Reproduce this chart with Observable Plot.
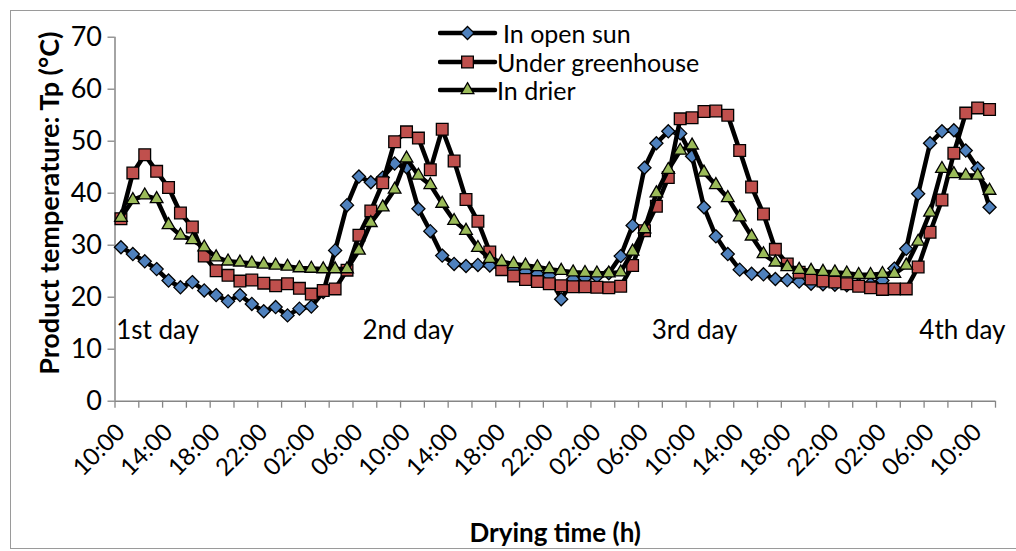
<!DOCTYPE html>
<html><head><meta charset="utf-8">
<script src="https://cdn.jsdelivr.net/npm/d3@7"></script>
<script src="https://cdn.jsdelivr.net/npm/@observablehq/plot@0.6"></script>
<style>
body{margin:0;background:#fff;}
#wrap{position:relative;width:1016px;height:551px;overflow:hidden;font-family:Lato,"Open Sans",sans-serif;}
#border{position:absolute;left:10px;top:10px;width:1040px;height:539px;border:1.5px solid #9a9a9a;box-sizing:border-box;}
#chart{position:absolute;left:0;top:0;}
#legend{position:absolute;left:0;top:0;width:1016px;height:110px;pointer-events:none;}
.lg{position:absolute;display:flex;align-items:center;font-size:25px;color:#000;white-space:pre;}
</style></head>
<body>
<div id="wrap"><div id="border"></div><div id="chart"></div><div id="legend"></div></div>
<script>
// ---- data (hourly readings, index 0 = 10:00 of day 1) ----
const seriesNames = ["In open sun", "Under greenhouse", "In drier"];
const openSun = [29.6,28.3,26.9,25.4,23.2,21.9,22.9,21.3,20.4,19.2,20.4,18.7,17.3,18.1,16.5,17.8,18.2,21.0,29.0,37.7,
  43.2,42.1,43.0,45.7,45.0,37.0,32.7,28.0,26.4,26.0,26.2,26.1,25.7,25.3,24.9,24.5,24.2,19.6,23.5,23.7,
  24.0,24.6,27.9,33.8,44.9,49.6,51.9,51.5,47.1,37.3,31.7,28.3,25.3,24.5,24.4,23.5,23.3,23.0,22.6,22.5,
  22.4,22.3,22.4,22.6,23.2,25.5,29.3,39.9,49.6,51.9,52.1,48.2,44.8,37.3];
const greenhouse = [35.1,43.9,47.4,44.2,41.1,36.2,33.5,27.9,25.1,24.2,23.1,23.3,22.7,22.2,22.6,21.7,20.6,21.3,21.6,25.2,
  31.9,36.6,42.0,49.9,51.8,50.6,44.5,52.3,46.2,38.8,34.6,28.7,25.3,24.1,23.4,23.0,22.6,22.2,22.0,22.0,
  21.9,21.8,22.1,26.1,32.8,37.5,43.0,54.3,54.5,55.7,55.8,55.0,48.2,41.2,36.0,29.2,26.4,24.8,23.5,23.1,
  22.9,22.6,22.1,21.8,21.5,21.6,21.6,25.8,32.5,38.7,47.7,55.4,56.4,56.1];
const drier = [35.3,38.7,39.6,38.9,33.9,31.9,31.0,29.6,27.7,26.9,26.7,26.5,26.3,26.1,25.9,25.6,25.5,25.4,25.4,25.4,
  29.0,34.3,37.3,40.7,46.7,43.4,41.6,38.0,34.7,32.8,29.5,27.4,26.8,26.4,26.1,25.8,25.4,25.1,24.8,24.7,
  24.6,24.6,24.8,28.8,33.1,40.0,44.5,48.2,49.2,44.0,41.6,39.1,35.4,31.7,28.3,26.7,25.8,25.3,25.1,24.9,
  24.8,24.6,24.3,24.3,24.5,24.5,26.1,30.7,36.3,44.7,43.7,43.4,43.4,40.5];
const tickLabels = ["10:00","14:00","18:00","22:00","02:00","06:00","10:00","14:00","18:00","22:00",
  "02:00","06:00","10:00","14:00","18:00","22:00","02:00","06:00","10:00"];
const yTicks = [0,10,20,30,40,50,60,70];
const dayLabels = ["1st day","2nd day","3rd day","4th day"];
const dayIndex = [-0.4, 20.3, 44.6, 67.1];
const dayValue = [13.5, 13.5, 13.5, 13.5];

// ---- styling ----
const colors = ["#4F81BD", "#C0504D", "#9BBB59"];
const symbols = ["diamond2", "square", "triangle"];
const radii = [5.9, 6.6, 4.7];
const axisGray = "#868686";

const allSeries = [openSun, greenhouse, drier];
const tables = allSeries.map((vals, k) => vals.map((v, i) => ({i, v, s: seriesNames[k]})));
const n = openSun.length;
const labelIdx = tickLabels.map((_, k) => k * 4);
const boundaries = d3.range(-0.5, n, 2);

const marks = [];
tables.forEach((t, k) => {
  marks.push(Plot.line(t, {x: "i", y: "v", stroke: "black", strokeWidth: 4.5, strokeLinejoin: "round"}));
  marks.push(Plot.dot(t, {x: "i", y: "v", symbol: symbols[k], r: radii[k], fill: colors[k], stroke: "black", strokeWidth: 1.3}));
});

const chart = Plot.plot({
  width: 1016, height: 551,
  marginLeft: 114.5, marginRight: 21, marginTop: 36.7, marginBottom: 150.3,
  style: {fontFamily: "Lato, 'Open Sans', sans-serif", fontSize: "24px", color: "black", background: "transparent", overflow: "visible"},
  x: {domain: [-0.5, n - 0.5]},
  y: {domain: [0, 70]},
  marks: [
    Plot.ruleX([-0.5], {stroke: axisGray, strokeWidth: 1.5}),
    Plot.ruleY([0], {stroke: axisGray, strokeWidth: 1.5}),
    Plot.axisY({ticks: yTicks, tickSize: 7, tickPadding: 6, stroke: axisGray, fill: "black", fontSize: 27, label: null, strokeWidth: 1.3}),
    Plot.axisX({ticks: boundaries, tickSize: 7, tickFormat: () => "", stroke: axisGray, label: null, strokeWidth: 1.3}),
    Plot.axisX({ticks: labelIdx, tickSize: 0, tickPadding: 27, tickRotate: -45, tickFormat: (d) => tickLabels[d / 4], fill: "black", fontSize: 24, label: null}),
    Plot.text(["Product temperature: Tp (°C)"], {frameAnchor: "left", textAnchor: "middle", lineAnchor: "middle", rotate: -90, dx: -65, dy: -16, fontWeight: "bold", fontSize: 27, fill: "black"}),
    Plot.text(["Drying time (h)"], {frameAnchor: "bottom", textAnchor: "middle", lineAnchor: "middle", dy: 132, fontWeight: "bold", fontSize: 26, fill: "black"}),
    Plot.text(dayLabels, {x: (d, k) => dayIndex[k], y: (d, k) => dayValue[k], text: (d) => d, textAnchor: "start", fontSize: 26, fill: "black"}),
    ...marks
  ]
});
document.getElementById("chart").appendChild(chart);

// ---- legend ----
const legend = d3.select("#legend");
const rowY = [33, 62, 90];
const textX = [503, 497, 497];
const symMap = {diamond2: d3.symbolDiamond2, square: d3.symbolSquare, triangle: d3.symbolTriangle};
seriesNames.forEach((name, k) => {
  const svg = legend.append("svg").attr("width", 60).attr("height", 24)
    .style("position", "absolute").style("left", "438px").style("top", (rowY[k] - 12) + "px");
  svg.append("line").attr("x1", 2).attr("x2", 57).attr("y1", 12).attr("y2", 12).attr("stroke", "black").attr("stroke-width", 4.5).attr("stroke-linecap", "round");
  svg.append("path").attr("transform", "translate(29.5,12)")
    .attr("d", d3.symbol(symMap[symbols[k]], Math.PI * radii[k] * radii[k])())
    .attr("fill", colors[k]).attr("stroke", "black").attr("stroke-width", 1.3);
  legend.append("div").attr("class", "lg").style("left", textX[k] + "px").style("top", (rowY[k] - 16) + "px").style("height", "32px").text(name);
});
</script>
</body></html>
